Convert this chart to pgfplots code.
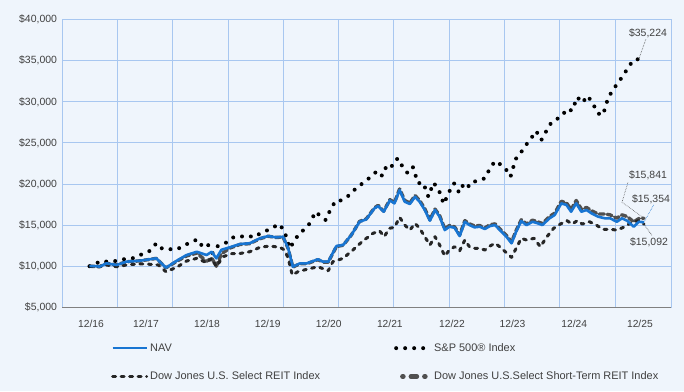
\documentclass[border=0pt]{standalone}
\usepackage{pgfplots}
\pgfplotsset{compat=1.18}
\usepackage{fontspec}
\setmainfont{Liberation Sans}
\definecolor{bg}{RGB}{239,245,252}
\definecolor{gridc}{RGB}{168,199,240}
\definecolor{navblue}{RGB}{24,117,210}
\definecolor{txt}{RGB}{64,64,64}
\definecolor{stgray}{RGB}{80,80,80}
\definecolor{selblk}{RGB}{38,38,38}
\definecolor{axgray}{RGB}{128,128,128}
\begin{document}
\begin{tikzpicture}[x=1bp,y=1bp]
\fill[bg] (0,0) rectangle (684,391);
\useasboundingbox (0,0) rectangle (684,391);
\begin{axis}[
  at={(62bp,83.7bp)}, anchor=south west,
  width=609bp, height=287.6bp, scale only axis,
  xmin=-5.354, xmax=113.26, ymin=5000, ymax=40000,
  clip=false,
  ytick={5000,10000,...,40000},
  scaled y ticks=false,
  /pgf/number format/.cd, fixed, 1000 sep={,}, assume math mode=true,
  /pgfplots/.cd,
  yticklabel={\$\pgfmathprintnumber{\tick}},
  xtick={0.3,11,22.9,34.7,46.6,58.5,70.6,82.4,94.4,107.2},
  xticklabels={12/16,12/17,12/18,12/19,12/20,12/21,12/22,12/23,12/24,12/25},
  minor xtick={5.42,16.2,27.0,37.8,48.5,59.3,70.1,80.9,91.6,102.4},
  xminorgrids=true, xmajorgrids=false, ymajorgrids=true,
  major tick length=0pt, minor tick length=0pt,
  grid style={gridc, line width=1bp},
  minor grid style={gridc, line width=1bp},
  axis line style={gridc, line width=1bp},
  yticklabel style={font=\fontsize{10.5}{12}\selectfont, text=txt, xshift=-1.5bp},
  xticklabel style={font=\fontsize{10.3}{12}\selectfont, text=txt, yshift=-9bp},
  legend columns=2,
  legend cell align=left,
  legend style={at={(axis description cs:0.0805,-0.118)}, anchor=north west,
    draw=none, fill=none, inner sep=0pt,
    font=\fontsize{11}{13}\selectfont, text=txt,
    /tikz/every even column/.append style={column sep=72bp},
    row sep=15bp},
  legend image code/.code={\draw[#1] (0bp,0bp) -- (34bp,0bp);},
]
% legend
\addlegendimage{navblue, line width=2.6bp}
\addlegendentry{NAV}
\addlegendimage{black, line width=4bp, line cap=round, dash pattern=on 0bp off 9bp}
\addlegendentry{S\&P 500® Index}
\addlegendimage{selblk, line width=3bp, line cap=round, dash pattern=on 3bp off 5.5bp}
\addlegendentry{Dow Jones U.S. Select REIT Index}
\addlegendimage{legend image code/.code={\draw[stgray, line width=4.5bp, line cap=round, dash pattern=on 1bp off 7.5bp on 6bp off 7.5bp] (6.25bp,0bp) -- (30bp,0bp);}}
\addlegendentry{Dow Jones U.S.Select Short-Term REIT Index}

% Short-Term REIT (behind)
\addplot[forget plot, stgray, line width=3.4bp, line cap=round, line join=round, dash pattern=on 5bp off 3bp] coordinates {
(0,10000) (2,9950) (3.3,10350) (5.3,10150) (7.2,10550) (9.8,10650) (13,10950) (14.9,9800) (17,10600) (18.9,11250) (20.9,11600) (22.8,10600) (23.8,11000) (24.7,10000) (25.7,11500) (27.3,12200) (29.3,12650) (31.2,12750) (33.2,13350) (34.8,13650) (36.4,13500) (37.7,13550) (38.7,12150) (39.6,9900) (41,10300) (42.3,10300) (44.5,10800) (45.5,10500) (46.5,10500) (48.1,12400) (49.4,12550) (51,13800) (52.6,15450) (53.9,15750) (55.5,17100) (56.2,17400) (57.3,16700) (58.5,18100) (59.4,17750) (60.4,19400) (61.4,18000) (62.4,17700) (63.4,18600) (64.3,18000) (65.3,17000) (66.3,15650) (67.3,16950) (68.2,16150) (69.2,14550) (70.1,14950) (71.1,14800) (72.1,13800) (73.1,15550) (74,15150) (75,14900) (76,14950) (77,14650) (78,15050) (79,15150) (79.9,14550) (81.2,13750) (82.2,12950) (83.1,14350) (84.1,15650) (85.1,15150) (86.3,15600) (87.3,15400) (88.2,15200) (89.6,16050) (90.6,16450) (91.9,17900) (92.9,17700) (93.8,16900) (94.8,18000) (95.8,16950) (96.8,17150) (97.8,16750) (99.1,16350) (100.4,16350) (101.4,16250) (102.7,15850) (103.7,16250) (104.7,16050) (106,15400) (107,15800) (108,15841)
};

% Select REIT
\addplot[forget plot, selblk, line width=3bp, line cap=round, line join=round, dash pattern=on 3bp off 5.5bp] coordinates {
(0,10000) (2,9950) (3.3,10150) (5.3,9940) (7.2,10150) (9.2,10270) (11.1,10270) (13.4,10150) (14.9,9330) (17,9870) (18.9,10630) (20.9,10960) (22.8,10430) (23.8,10960) (24.7,9940) (26,11160) (27.7,11520) (29.3,11550) (31.2,11760) (33.2,12300) (35.1,12460) (37.1,12300) (38,11970) (38.7,10960) (39.5,8930) (40.6,9330) (42.3,9620) (44.5,9940) (46.5,9450) (47.4,10550) (49.4,10960) (51.3,11970) (53.3,13100) (55.2,14000) (56.5,14300) (57.4,13600) (58.4,14610) (59.4,14730) (60.4,15950) (61.4,15010) (62.4,14400) (63.4,15220) (64.3,14610) (65.3,13590) (66.3,12580) (67.3,13590) (68.2,12580) (69.2,11240) (70.1,11970) (71.1,12370) (72.1,11890) (73.1,13190) (74,12370) (75,12180) (76,12180) (77,11970) (78,12460) (79,12790) (79.9,12370) (81.2,11640) (82.2,11080) (83.1,12180) (84.1,13390) (85.1,13190) (86.6,13390) (87.8,12370) (89.1,13590) (90.4,14610) (91.7,15130) (93,15540) (94,15130) (95,15540) (96,15130) (97.4,15410) (98.7,15010) (100,14490) (101.4,14490) (102.7,14400) (104,14730) (105.3,15220) (106.9,15540) (107.8,15220) (108,15092)
};

% S&P 500
\addplot[forget plot, black, line width=4bp, line cap=round, line join=round, dash pattern=on 0bp off 9bp] coordinates {
(0,10000) (1,10180) (2,10600) (3,10550) (4,10600) (5,10630) (6,10800) (7,10870) (8,10900) (9,11080) (10,11400) (11,11600) (12,11970) (13,12790) (14,12200) (15,12000) (16,12090) (17,12050) (18,12370) (19,12700) (20,12980) (21,13270) (22,12400) (23,12700) (24,11570) (25,12460) (26,12700) (27,12980) (28,13500) (29,13670) (30,13600) (31,13700) (32,13510) (33,13900) (34,14160) (35,14500) (36,14810) (37,15130) (38,14200) (39,12180) (40,13190) (41,14120) (42,14500) (43,15300) (44,16630) (45,16110) (46,15620) (47,17000) (48,18000) (49,18000) (50,18400) (51,18800) (52,19600) (53,20000) (54,20500) (55,20970) (56,21600) (57,21000) (58,22400) (59,22190) (60,23130) (61,22100) (62,21300) (63,22040) (64,20100) (65,20160) (66,18460) (67,20160) (68,19350) (69,17570) (70,19000) (71,20090) (72,18950) (73,20160) (74,19670) (75,20300) (76,20500) (77,20690) (78,21910) (79,22800) (80,22400) (81,21910) (82,20890) (83,23040) (84,23810) (85,24740) (86,25560) (87,26450) (88,25350) (89,26480) (90,27540) (91,27900) (92,28270) (93,29160) (94,28920) (95,30580) (96,29890) (97,30740) (98,29850) (99,28600) (100,28390) (101,30460) (102,31520) (103,32370) (104,33260) (105,34270) (106,35120) (107,35200) (108,35224)
};

% NAV
\addplot[forget plot, navblue, line width=2.6bp, line join=round] coordinates {
(0,10000) (1,10020) (2,9950) (3.3,10350) (5.3,10150) (7.2,10550) (9.8,10670) (13,10960) (14.9,9820) (17,10670) (18.9,11360) (20.9,11760) (22.8,11360) (23.8,11760) (24.7,10960) (25.7,12000) (27.3,12300) (29.3,12700) (31.2,12790) (33.2,13390) (34.8,13670) (36.4,13510) (37.7,13590) (38.7,12180) (39.6,9940) (41,10350) (42.3,10350) (44.5,10840) (45.5,10550) (46.5,10550) (48.1,12460) (49.4,12580) (51,13800) (52.6,15410) (53.9,15700) (55.5,17040) (56.2,17320) (57.3,16630) (58.5,18000) (59.4,17650) (60.4,19270) (61.4,17850) (62.4,17570) (63.4,18450) (64.3,17850) (65.3,16840) (66.3,15540) (67.3,16840) (68.2,16020) (69.2,14400) (70.1,14810) (71.1,14680) (72.1,13670) (73.1,15410) (74,15010) (75,14730) (76,14810) (77,14530) (78,14890) (79,15010) (79.9,14400) (81.2,13590) (82.2,12790) (83.1,14200) (84.1,15500) (85.1,15000) (86.3,15410) (87.3,15220) (88.2,15010) (89.6,15830) (90.6,16230) (91.9,17650) (92.9,17450) (93.8,16630) (94.8,17650) (95.8,16630) (96.8,16840) (97.8,16430) (99.1,16020) (100.4,15830) (101.4,15830) (102.7,15410) (103.7,15830) (104.7,15540) (106,14810) (107,15410) (108,15354)
};

% bottom axis line
\draw[axgray, line width=1.3bp] (rel axis cs:0,0) -- (rel axis cs:1,0);

% end-value annotations
\begin{scope}[every node/.style={font=\fontsize{10.5}{12}\selectfont, text=txt, inner sep=0pt}]
\draw[txt, line width=0.6bp, densely dotted] (axis cs:107,35200) -- ++(7bp,20bp);
\node at ([shift={(4bp,26bp)}]axis cs:108,35224) {\$35,224};
\draw[stgray, line width=0.6bp, densely dotted] (axis cs:108,15841) -- ++(-22bp,16bp) -- ++(6bp,20bp);
\node at ([shift={(4bp,43bp)}]axis cs:108,15841) {\$15,841};
\draw[navblue, line width=0.6bp, densely dotted] (axis cs:108,15354) -- ++(10bp,18bp);
\node at ([shift={(7bp,23bp)}]axis cs:108,15354) {\$15,354};
\draw[selblk, line width=0.6bp, densely dotted] (axis cs:108,15092) -- ++(8bp,-11bp);
\node at ([shift={(5bp,-18bp)}]axis cs:108,15092) {\$15,092};
\end{scope}
\end{axis}
\end{tikzpicture}
\end{document}
